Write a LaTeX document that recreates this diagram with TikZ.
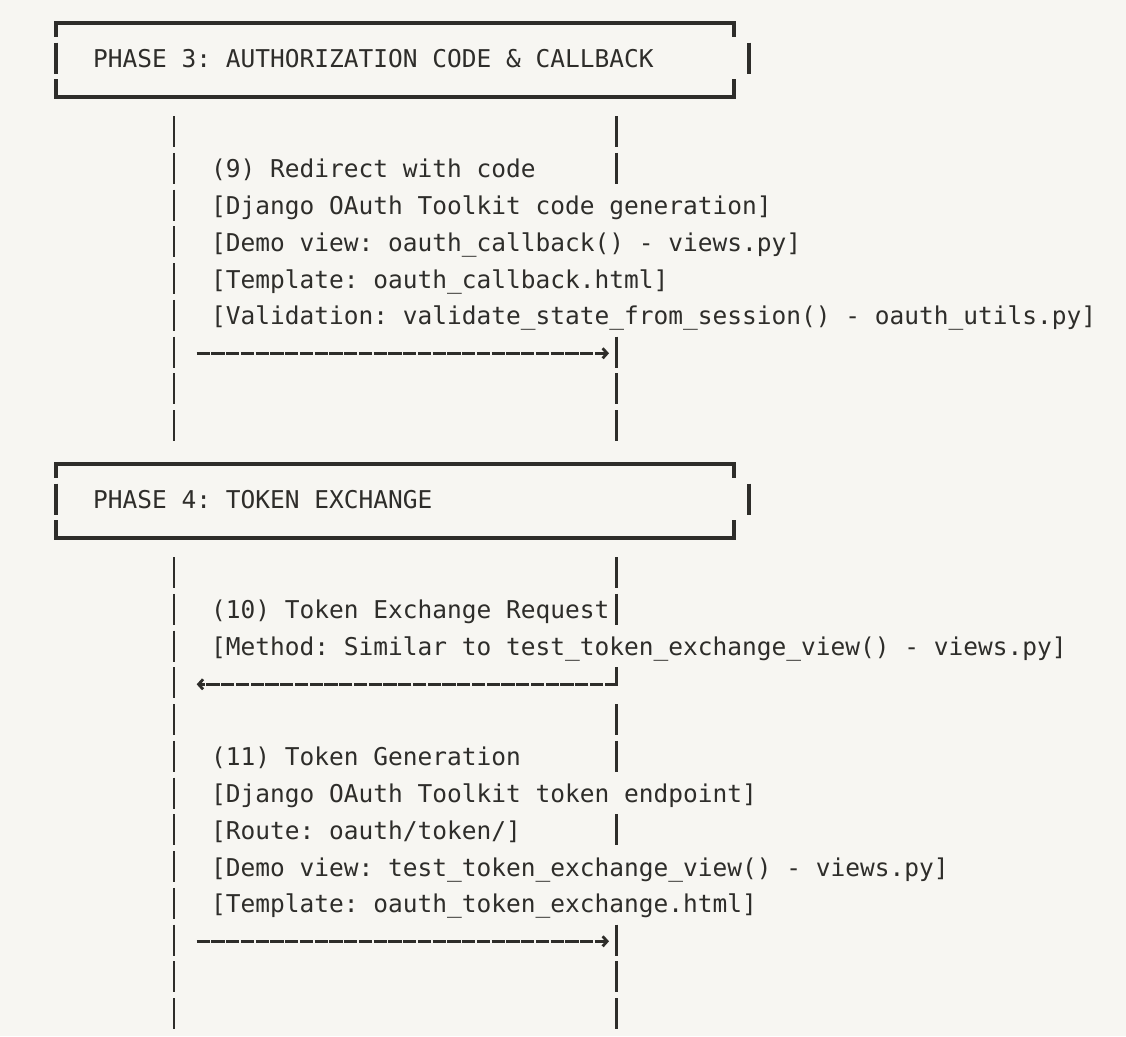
\documentclass[tikz,border=0pt]{standalone}
\usepackage{fontspec}
\setmonofont{DejaVu Sans Mono}
\usetikzlibrary{arrows.meta}
\definecolor{paper}{HTML}{F7F6F2}
\definecolor{ink}{HTML}{2E2D2A}

\begin{document}
\begin{tikzpicture}[
    x=1pt, y=-1pt,
    txt/.style={
        font=\ttfamily\fontsize{24.5}{30}\selectfont,
        text=ink,
        inner sep=0pt,
        anchor=base west,
    },
    lifeline/.style={draw=ink,line width=2.6pt,dash pattern=on 31pt off 5.75pt},
    frame/.style={draw=ink,line width=3.8pt,line join=miter},
    msg/.style={
        draw=ink,
        line width=2.8pt,
        dash pattern=on 13.2pt off 1.55pt,
        -{Straight Barb[length=4.5pt,width=10pt]},
    },
]

\useasboundingbox (0,0) rectangle (1126,1036);
\fill[paper] (0,0) rectangle (1126,1036);
\clip (0,0) rectangle (1126,1036);

% Lifelines (client left, server right)
\draw[lifeline] (174,-30.8) -- (174,0.7);
\draw[lifeline] (174,116.2) -- (174,441.2);
\draw[lifeline] (174,557.2) -- (174,1029.2);
\draw[lifeline] (616.5,-30.8) -- (616.5,0.7);
\draw[lifeline] (616.5,116.2) -- (616.5,183.95);
\draw[lifeline] (616.5,336.7) -- (616.5,441.2);
\draw[lifeline] (616.5,557.2) -- (616.5,624.95);
\draw[lifeline] (616.5,667.45) -- (616.5,685.7);
\draw[lifeline] (616.5,704.2) -- (616.5,771.95);
\draw[lifeline] (616.5,814.45) -- (616.5,845.45);
\draw[lifeline] (616.5,924.7) -- (616.5,1029.2);

% Phase frames
\foreach \dy in {0,441} {
    \begin{scope}[shift={(0,\dy)}]
        \draw[frame] (56,36.95) -- (56,23.35) -- (734.2,23.35) -- (734.2,36.95);
        \draw[frame] (56,42.7) -- (56,73.7);
        \draw[frame] (748.7,42.7) -- (748.7,73.7);
        \draw[frame] (56,79.45) -- (56,96.85) -- (734.2,96.85) -- (734.2,79.45);
    \end{scope}
}

% Phase 3: Authorization code & callback
\node[txt] (phase3) at (92.9,67.5) {PHASE 3: AUTHORIZATION CODE \& CALLBACK};

\node[txt] (redirect) at (210.9,177.75) {(9) Redirect with code};
\node[txt] (redirecta) at (210.9,214.5) {[Django OAuth Toolkit code generation]};
\node[txt] (redirectb) at (210.9,251.25) {[Demo view: oauth\_callback() - views.py]};
\node[txt] (redirectc) at (210.9,288) {[Template: oauth\_callback.html]};
\node[txt] (redirectd) at (210.9,324.75) {[Validation: validate\_state\_from\_session() - oauth\_utils.py]};

\coordinate (redirectfrom) at (196.7,353.3);
\coordinate (redirectto) at (609,353.3);
\draw[msg] (redirectfrom) -- (redirectto);

% Phase 4: Token exchange
\node[txt] (phase4) at (92.9,508.5) {PHASE 4: TOKEN EXCHANGE};

\node[txt] (exchange) at (210.9,618.75) {(10) Token Exchange Request};
\node[txt] (exchangea) at (210.9,655.5) {[Method: Similar to test\_token\_exchange\_view() - views.py]};

\coordinate (exchangefrom) at (617.9,684.3);
\coordinate (exchangeto) at (196.7,684.3);
\draw[msg] (exchangefrom) -- (exchangeto);

\node[txt] (tokengen) at (210.9,765.75) {(11) Token Generation};
\node[txt] (tokengena) at (210.9,802.5) {[Django OAuth Toolkit token endpoint]};
\node[txt] (tokengenb) at (210.9,839.25) {[Route: oauth/token/]};
\node[txt] (tokengenc) at (210.9,876) {[Demo view: test\_token\_exchange\_view() - views.py]};
\node[txt] (tokengend) at (210.9,912.75) {[Template: oauth\_token\_exchange.html]};

\coordinate (tokengenfrom) at (196.7,941.3);
\coordinate (tokengento) at (609,941.3);
\draw[msg] (tokengenfrom) -- (tokengento);

\end{tikzpicture}
\end{document}
